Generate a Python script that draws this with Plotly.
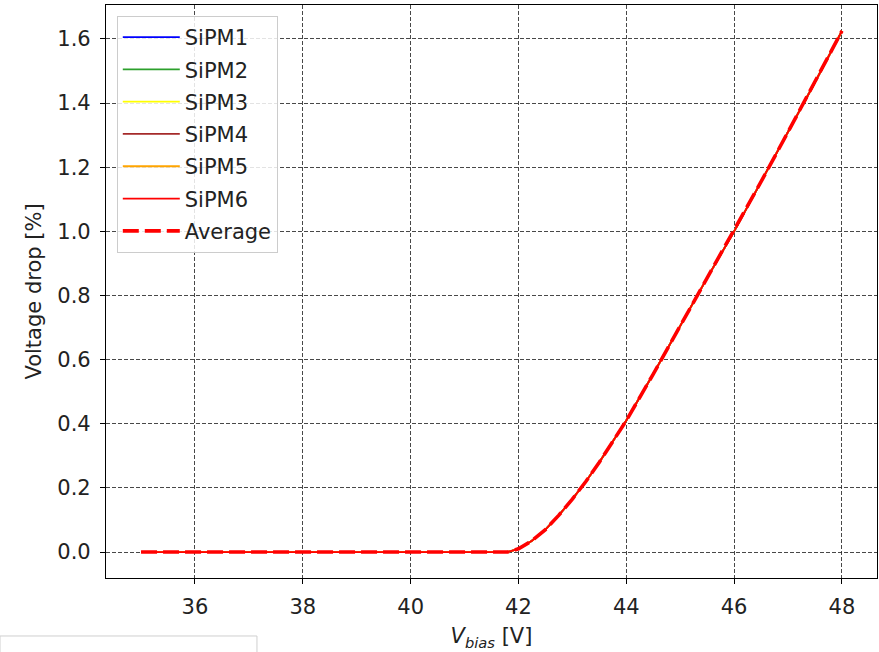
import plotly.graph_objects as go

# ---- data ----
v_bias = [35, 36, 37, 38, 39, 40, 41, 41.5, 41.8, 42.0, 42.25, 42.5, 42.75,
          43.0, 43.25, 43.5, 43.75, 44.0, 44.5, 45.0, 45.5, 46.0, 46.5, 47.0,
          47.5, 48.0]
avg_drop = [0, 0, 0, 0, 0, 0, 0, 0, 0, 0.01, 0.035, 0.07, 0.115, 0.165, 0.22,
            0.28, 0.345, 0.41, 0.555, 0.705, 0.855, 1.0, 1.155, 1.31, 1.465,
            1.625]
sipm1 = list(avg_drop)
sipm2 = list(avg_drop)
sipm3 = list(avg_drop)
sipm4 = list(avg_drop)
sipm5 = list(avg_drop)
sipm6 = list(avg_drop)

sipm_names = ["SiPM1", "SiPM2", "SiPM3", "SiPM4", "SiPM5", "SiPM6"]
sipm_values = [sipm1, sipm2, sipm3, sipm4, sipm5, sipm6]
sipm_colors = ["#0000ff", "#2ca02c", "#ffff00", "#a52a2a", "#ffa500", "#ff0000"]

x_ticks = [36, 38, 40, 42, 44, 46, 48]
y_ticks = [0.0, 0.2, 0.4, 0.6, 0.8, 1.0, 1.2, 1.4, 1.6]

FONT = "DejaVu Sans"
FS = 21

fig = go.Figure()
for i, (name, vals, col) in enumerate(zip(sipm_names, sipm_values, sipm_colors)):
    fig.add_trace(go.Scatter(x=v_bias, y=vals, mode="lines", name=name,
                             legendgroup=name,
                             line=dict(color=col, width=1.8)))
fig.add_trace(go.Scatter(x=v_bias, y=avg_drop, mode="lines", name="Average",
                         legendgroup="Average",
                         line=dict(color="#ff0000", width=3.6, dash="16px,6px")))

axis_common = dict(
    showline=True, linecolor="black", linewidth=1.2, mirror=True,
    ticks="outside", ticklen=5, tickwidth=1.2, tickcolor="black",
    showgrid=True, gridcolor="rgba(40,40,40,0.85)", gridwidth=0.9,
    griddash="4px,2px", zeroline=False,
    tickfont=dict(family=FONT, size=FS, color="#222"),
)

fig.update_xaxes(range=[34.35, 48.65], tickvals=x_ticks,
                 ticktext=[str(t) for t in x_ticks],
                 ticklabelstandoff=5,
                 title=dict(text="<i>V</i><sub><i>bias</i></sub> [V]",
                            font=dict(family=FONT, size=FS, color="#222"),
                            standoff=10),
                 **axis_common)
fig.update_yaxes(range=[-0.081, 1.706], tickvals=y_ticks,
                 ticktext=[f"{t:.1f}" for t in y_ticks],
                 ticklabelstandoff=5,
                 title=dict(text="Voltage drop [%]",
                            font=dict(family=FONT, size=FS, color="#222"),
                            standoff=9),
                 **axis_common)

fig.update_layout(
    width=879, height=652,
    margin=dict(l=106, r=2, t=5, b=74),
    plot_bgcolor="white", paper_bgcolor="white",
    font=dict(family=FONT, size=FS, color="#222"),
    showlegend=True,
    legend=dict(x=0.014, y=0.981, xanchor="left", yanchor="top",
                bgcolor="rgba(255,255,255,0.85)", bordercolor="#cccccc",
                borderwidth=1, tracegroupgap=2, itemwidth=57,
                font=dict(family=FONT, size=FS, color="#222")),
    shapes=[dict(type="rect", xref="paper", yref="paper",
                 x0=-0.1375, x1=0.1958, y0=-0.1012, y1=-0.16,
                 line=dict(color="#cfcfcf", width=1), fillcolor="white",
                 layer="above")],
)

fig.write_html("out.html", config={"displayModeBar": False},
               post_script="document.body.style.margin='0';document.body.style.padding='0';")
